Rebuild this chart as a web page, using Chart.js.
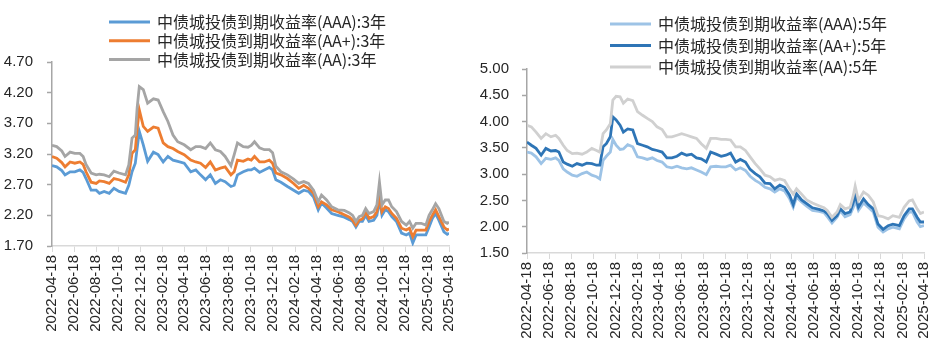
<!DOCTYPE html>
<html><head><meta charset="utf-8">
<script src="https://cdn.jsdelivr.net/npm/chart.js@4.4.1/dist/chart.umd.min.js"></script>
<style>
html,body{margin:0;padding:0;background:#fff;width:945px;height:355px;overflow:hidden;}
.box{position:absolute;top:0;height:355px;}
</style></head><body>
<div class="box" style="left:0;width:470px"><canvas id="c3" width="470" height="355"></canvas></div>
<div class="box" style="left:470px;width:475px"><canvas id="c5" width="475" height="355"></canvas></div>
<script>
// ---------- tick labels ----------
const xTickLabels = ['2022-04-18','2022-06-18','2022-08-18','2022-10-18','2022-12-18','2023-02-18','2023-04-18','2023-06-18','2023-08-18','2023-10-18','2023-12-18','2024-02-18','2024-04-18','2024-06-18','2024-08-18','2024-10-18','2024-12-18','2025-02-18','2025-04-18'];
const yTicks3 = ['1.70','2.20','2.70','3.20','3.70','4.20','4.70'];
const yTicks5 = ['1.50','2.00','2.50','3.00','3.50','4.00','4.50','5.00'];

// ---------- 3-year series ----------
const labels3 = ['中债城投债到期收益率(AAA):3年','中债城投债到期收益率(AA+):3年','中债城投债到期收益率(AA):3年'];
const dates3 = ['2022-04-18','2022-05-01','2022-05-15','2022-05-24','2022-06-07','2022-06-20','2022-07-04','2022-07-13','2022-07-21','2022-08-04','2022-08-18','2022-08-27','2022-09-09','2022-09-23','2022-10-06','2022-10-20','2022-11-07','2022-11-16','2022-11-25','2022-12-04','2022-12-09','2022-12-15','2022-12-26','2023-01-07','2023-01-23','2023-02-05','2023-02-19','2023-03-04','2023-03-18','2023-03-31','2023-04-18','2023-05-06','2023-05-20','2023-06-02','2023-06-16','2023-06-29','2023-07-13','2023-07-27','2023-08-09','2023-08-25','2023-09-03','2023-09-12','2023-09-28','2023-10-11','2023-10-20','2023-10-29','2023-11-12','2023-11-25','2023-12-09','2023-12-18','2023-12-27','2024-01-10','2024-01-28','2024-02-14','2024-02-28','2024-03-13','2024-03-26','2024-04-09','2024-04-22','2024-05-01','2024-05-15','2024-05-29','2024-06-15','2024-07-03','2024-07-17','2024-07-26','2024-08-04','2024-08-13','2024-08-22','2024-08-31','2024-09-09','2024-09-22','2024-10-01','2024-10-08','2024-10-15','2024-10-24','2024-11-02','2024-11-11','2024-11-24','2024-12-08','2024-12-21','2024-12-30','2025-01-08','2025-01-17','2025-01-31','2025-02-13','2025-02-22','2025-03-03','2025-03-12','2025-03-21','2025-04-04','2025-04-13','2025-04-18'];
const aaa3 = [3.01,2.99,2.93,2.86,2.91,2.91,2.94,2.90,2.80,2.61,2.61,2.56,2.59,2.56,2.64,2.59,2.56,2.69,2.91,3.05,3.29,3.57,3.35,3.08,3.23,3.19,3.07,3.16,3.10,3.08,3.05,2.91,2.94,2.86,2.78,2.86,2.72,2.78,2.75,2.67,2.69,2.86,2.91,2.94,2.94,2.97,2.90,2.94,2.98,2.94,2.78,2.74,2.67,2.61,2.56,2.61,2.59,2.50,2.29,2.40,2.32,2.23,2.20,2.17,2.13,2.10,2.01,2.10,2.10,2.20,2.10,2.12,2.20,2.45,2.20,2.29,2.26,2.18,2.10,1.91,1.88,1.91,1.75,1.88,1.88,1.88,2.01,2.15,2.23,2.12,1.93,1.89,1.91];
const aap3 = [3.16,3.13,3.06,2.99,3.07,3.05,3.07,3.03,2.91,2.74,2.72,2.76,2.75,2.72,2.80,2.78,2.74,2.86,3.21,3.27,3.60,3.92,3.65,3.57,3.64,3.62,3.38,3.32,3.29,3.24,3.19,3.10,3.07,3.05,2.98,3.07,2.94,2.97,2.99,2.86,2.91,3.10,3.08,3.12,3.10,3.16,3.07,3.07,3.10,3.05,2.89,2.86,2.80,2.72,2.64,2.69,2.64,2.56,2.34,2.42,2.37,2.29,2.26,2.21,2.17,2.12,2.04,2.12,2.14,2.26,2.15,2.18,2.26,2.52,2.26,2.34,2.31,2.23,2.15,1.99,1.96,1.99,1.85,1.96,1.96,1.96,2.10,2.20,2.29,2.18,2.01,1.96,1.98];
const aa3  = [3.34,3.32,3.25,3.16,3.23,3.21,3.21,3.16,3.03,2.89,2.86,2.87,2.86,2.83,2.92,2.89,2.86,3.02,3.46,3.51,3.95,4.30,4.25,4.03,4.10,4.08,3.89,3.73,3.51,3.40,3.35,3.27,3.32,3.32,3.29,3.38,3.27,3.24,3.16,3.01,3.19,3.38,3.32,3.31,3.34,3.40,3.30,3.27,3.27,3.22,3.00,2.91,2.86,2.79,2.72,2.75,2.72,2.61,2.42,2.53,2.45,2.34,2.29,2.28,2.24,2.20,2.10,2.18,2.20,2.31,2.23,2.26,2.37,2.74,2.37,2.45,2.45,2.34,2.26,2.10,2.04,2.10,1.99,2.07,2.07,2.04,2.20,2.29,2.39,2.31,2.10,2.07,2.09];

// ---------- 5-year series ----------
const labels5 = ['中债城投债到期收益率(AAA):5年','中债城投债到期收益率(AA+):5年','中债城投债到期收益率(AA):5年'];
const dates5 = ['2022-04-18','2022-04-30','2022-05-13','2022-05-27','2022-06-09','2022-06-23','2022-07-06','2022-07-15','2022-07-27','2022-08-07','2022-08-21','2022-09-03','2022-09-17','2022-09-30','2022-10-14','2022-10-27','2022-11-05','2022-11-14','2022-11-23','2022-12-04','2022-12-11','2022-12-20','2022-12-31','2023-01-09','2023-01-21','2023-02-04','2023-02-17','2023-03-03','2023-03-16','2023-03-30','2023-04-12','2023-04-26','2023-05-09','2023-05-23','2023-06-06','2023-06-19','2023-07-03','2023-07-16','2023-07-30','2023-08-12','2023-08-26','2023-09-07','2023-09-22','2023-10-06','2023-10-19','2023-11-01','2023-11-15','2023-11-28','2023-12-12','2023-12-25','2024-01-08','2024-01-21','2024-02-04','2024-02-18','2024-03-02','2024-03-16','2024-03-29','2024-04-12','2024-04-22','2024-05-01','2024-05-15','2024-05-29','2024-06-14','2024-07-02','2024-07-16','2024-07-25','2024-08-07','2024-08-21','2024-08-30','2024-09-12','2024-09-26','2024-10-05','2024-10-10','2024-10-19','2024-11-02','2024-11-15','2024-11-29','2024-12-12','2024-12-26','2025-01-09','2025-01-22','2025-02-09','2025-02-22','2025-03-08','2025-03-17','2025-03-30','2025-04-08','2025-04-18'];
const aaa5 = [3.42,3.40,3.33,3.20,3.30,3.28,3.31,3.26,3.10,3.04,2.98,2.96,3.01,3.04,2.98,2.95,2.91,3.26,3.34,3.42,3.66,3.55,3.47,3.48,3.56,3.52,3.33,3.31,3.28,3.31,3.26,3.23,3.14,3.12,3.15,3.12,3.10,3.12,3.08,3.04,2.99,3.14,3.15,3.14,3.14,3.17,3.08,3.12,3.07,2.96,2.88,2.83,2.75,2.72,2.66,2.72,2.68,2.53,2.37,2.56,2.47,2.39,2.31,2.29,2.27,2.19,2.07,2.18,2.30,2.19,2.23,2.37,2.50,2.31,2.45,2.37,2.28,1.99,1.90,1.96,1.99,1.96,2.15,2.28,2.28,2.09,2.00,2.02];
const aap5 = [3.61,3.55,3.49,3.36,3.49,3.44,3.45,3.42,3.23,3.19,3.15,3.20,3.17,3.21,3.20,3.17,3.17,3.52,3.58,3.71,4.09,4.03,3.93,3.80,3.86,3.84,3.58,3.55,3.52,3.47,3.45,3.42,3.31,3.31,3.34,3.40,3.36,3.38,3.31,3.29,3.23,3.42,3.38,3.34,3.36,3.40,3.23,3.28,3.23,3.09,3.01,2.95,2.83,2.82,2.72,2.79,2.75,2.60,2.42,2.63,2.51,2.44,2.36,2.33,2.30,2.25,2.12,2.21,2.34,2.25,2.28,2.47,2.60,2.37,2.53,2.42,2.34,2.05,1.95,2.02,2.05,2.02,2.21,2.34,2.34,2.18,2.09,2.09];
const aa5  = [3.93,3.90,3.80,3.68,3.77,3.71,3.74,3.68,3.55,3.45,3.39,3.40,3.38,3.42,3.49,3.45,3.42,3.77,3.84,3.96,4.41,4.48,4.47,4.35,4.43,4.40,4.19,4.12,4.06,4.00,3.90,3.85,3.71,3.71,3.74,3.77,3.74,3.71,3.68,3.58,3.49,3.68,3.68,3.66,3.66,3.65,3.52,3.52,3.45,3.33,3.20,3.10,2.98,2.95,2.88,2.91,2.88,2.72,2.62,2.72,2.62,2.51,2.45,2.40,2.36,2.31,2.18,2.28,2.42,2.34,2.37,2.60,2.77,2.50,2.66,2.60,2.47,2.21,2.19,2.15,2.21,2.18,2.37,2.49,2.51,2.34,2.25,2.28];

// ---------- drawing ----------
const TXT = '#262626';
const tickFont = {family: '"Liberation Sans", Arial, sans-serif', size: 15};

const sideLegend = {
  id: 'sideLegend',
  afterDraw(chart, args, o) {
    const ctx = chart.ctx;
    ctx.save();
    ctx.font = '16px "Noto Sans CJK SC"';
    ctx.textBaseline = 'middle';
    ctx.textAlign = 'left';
    chart.data.datasets.forEach((ds, i) => {
      const y = o.y + i * o.dy;
      ctx.strokeStyle = ds.borderColor;
      ctx.lineWidth = 3;
      ctx.beginPath(); ctx.moveTo(o.x, y); ctx.lineTo(o.x + 41, y); ctx.stroke();
      ctx.fillStyle = TXT;
      ctx.fillText(ds.label, o.x + 48, y);
    });
    ctx.restore();
  }
};

function pts(dates, vals) { return dates.map((d, i) => ({x: Date.parse(d), y: vals[i]})); }

function makeChart(id, dates, series, labels, colors, yTicks, g) {
  const datasets = series.map((s, i) => ({
    label: labels[i], data: pts(dates, s), borderColor: colors[i], backgroundColor: colors[i],
    borderWidth: 2.8, pointRadius: 0, tension: 0, fill: false, order: 3 - i
  }));
  new Chart(document.getElementById(id), {
    type: 'line',
    data: {datasets},
    plugins: [sideLegend],
    options: {
      responsive: false, animation: false, devicePixelRatio: 1,
      layout: {padding: {top: g.top, right: g.right, left: 0, bottom: 0}},
      plugins: {legend: {display: false}, tooltip: {enabled: false}, sideLegend: g.legend},
      scales: {
        x: {
          type: 'linear',
          min: Date.parse(xTickLabels[0]), max: Date.parse(xTickLabels[xTickLabels.length - 1]),
          afterBuildTicks: s => { s.ticks = xTickLabels.map(d => ({value: Date.parse(d)})); },
          afterFit: s => { s.height = g.xh; },
          ticks: {autoSkip: false, minRotation: 90, maxRotation: 90, padding: 3, font: tickFont, color: TXT,
                  callback: (v, i) => xTickLabels[i]},
          grid: {drawOnChartArea: false, drawTicks: true, tickLength: 6, tickColor: '#d9d9d9', tickWidth: 1},
          border: {display: true, color: '#d9d9d9', width: 1.5}
        },
        y: {
          min: parseFloat(yTicks[0]), max: parseFloat(yTicks[yTicks.length - 1]),
          afterBuildTicks: s => { s.ticks = yTicks.map(t => ({value: parseFloat(t)})); },
          afterFit: s => { s.width = g.yw; },
          ticks: {padding: g.ypad, font: tickFont, color: TXT, callback: (v, i) => yTicks[i]},
          grid: {drawOnChartArea: false, drawTicks: true, tickLength: 5, tickColor: '#a6a6a6', tickWidth: 1.5},
          border: {display: true, color: '#a6a6a6', width: 1.5}
        }
      }
    }
  });
}

makeChart('c3', dates3, [aaa3, aap3, aa3], labels3, ['#5b9bd5', '#ed7d31', '#a5a5a5'], yTicks3,
  {top: 62, right: 13, xh: 109, yw: 52, ypad: 14, legend: {x: 109, y: 22, dy: 18.8}});
makeChart('c5', dates5, [aaa5, aap5, aa5], labels5, ['#9dc3e6', '#2e75b6', '#d0d0d0'], yTicks5,
  {top: 69, right: 13, xh: 102, yw: 57, ypad: 13, legend: {x: 140, y: 24, dy: 21.5}});
</script>
</body></html>
